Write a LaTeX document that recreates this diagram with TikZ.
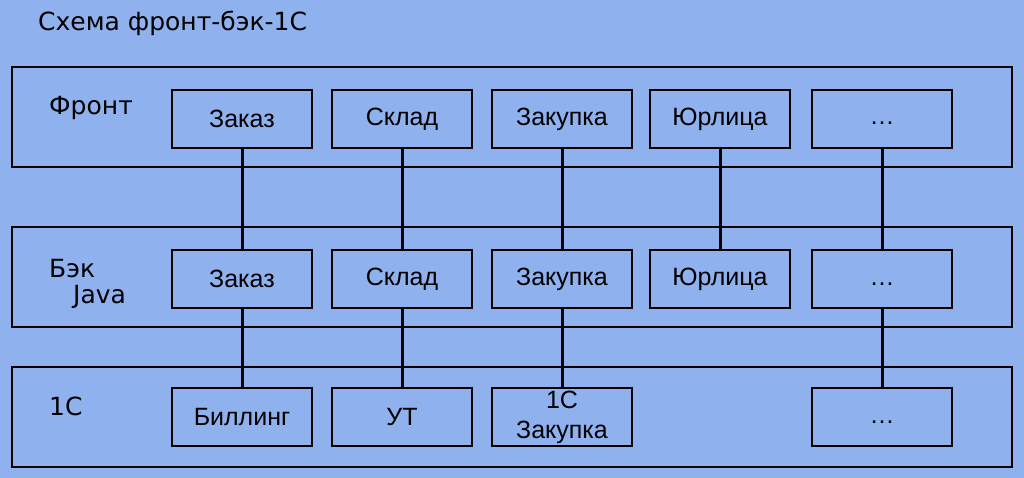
\documentclass[tikz,border=0pt]{standalone}
\usepackage{fontspec}
\setmainfont{Liberation Sans}
\newfontfamily\tagfont{DejaVu Sans}
\usepackage{xcolor}
\definecolor{bgblue}{RGB}{143,177,238}

\begin{document}
\begin{tikzpicture}[x=1pt,y=-1pt,
    layer/.style={draw,line width=2pt,minimum width=1000pt,minimum height=100pt,inner sep=0pt},
    unit/.style={draw,line width=2pt,minimum width=140pt,minimum height=58pt,inner sep=0pt,
      align=center,font=\fontsize{25}{30}\selectfont},
    tag/.style={anchor=base west,inner sep=0pt,font=\tagfont\fontsize{25}{28}\selectfont},
    wire/.style={line width=3pt}]
        \fill[bgblue] (0,0) rectangle (1024,478);
        \useasboundingbox (0,0) rectangle (1024,478);
        \node[tag] (title) at (38,31) {Схема фронт-бэк-1С};
        % layers
        \node[layer] (front) at (512,117) {};
        \node[layer] (back) at (512,277) {};
        \node[layer] (onec) at (512,417) {};
        \node[tag] (fronttag) at (49,115) {Фронт};
        \node[tag] (backtag) at (49,277) {Бэк};
        \node[tag] (javatag) at (73,303) {Java};
        \node[tag] (onectag) at (49,415) {1С};
        % modules
        \foreach \x/\n/\t in {242/1/Заказ,402/2/Склад,562/3/Закупка,720/4/Юрлица,882/5/{\strut\dots}} {
        \node[unit] (f\n) at (\x,119) {\t};
        \node[unit] (b\n) at (\x,279) {\t}; }
        \node[unit] (c1) at (242,417) {Биллинг};
        \node[unit] (c2) at (402,417) {УТ};
        \node[unit] (c3) at (562,417) {1С\\Закупка};
        \node[unit] (c5) at (882,417) {\strut\dots};
        \foreach \n in {1,...,5} { \draw[wire] (f\n) -- (b\n); }
        \foreach \n in {1,2,3,5} { \draw[wire] (b\n) -- (c\n); }
      \end{tikzpicture}
\end{document}
